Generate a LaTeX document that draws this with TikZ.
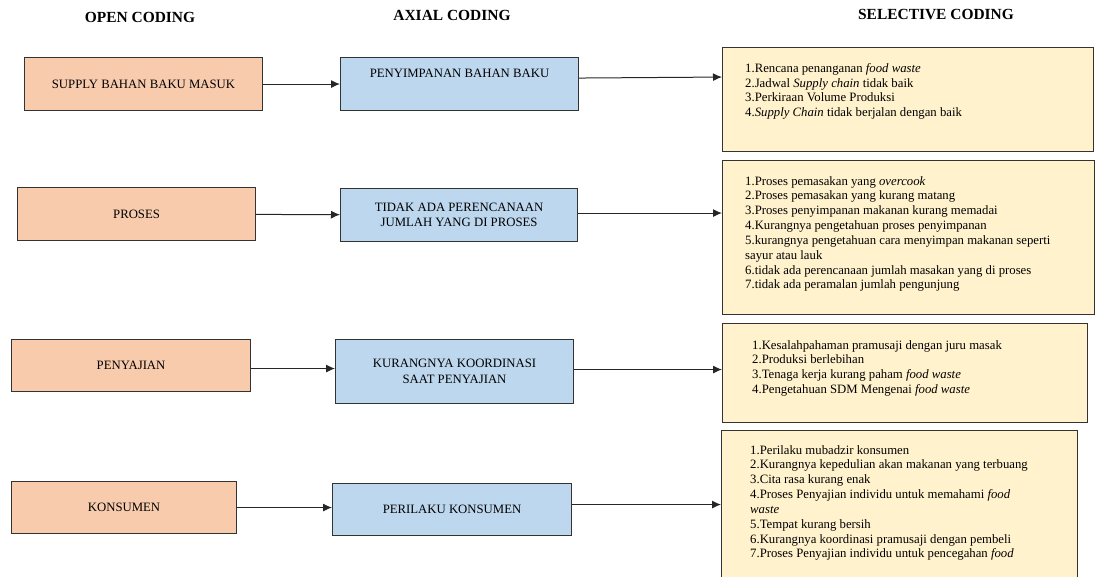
\documentclass[tikz,border=0pt]{standalone}
\usepackage{fontspec}
\setmainfont{Liberation Serif}
\usetikzlibrary{calc,positioning,arrows.meta}
\definecolor{opencol}{HTML}{F8CBAD}
\definecolor{axialcol}{HTML}{BDD7EE}
\definecolor{selcol}{HTML}{FFF2CC}
\definecolor{edgecol}{HTML}{333333}

\begin{document}
\begin{tikzpicture}[x=1bp,y=-1bp,inner sep=0mm,>={Latex[length=9bp,width=8bp]},
  head/.style={font=\fontsize{15.5}{18}\selectfont\bfseries},
  openbox/.style={draw=edgecol,line width=1.1bp,fill=opencol,anchor=north west,
    minimum width=238bp,minimum height=53bp,align=center,font=\fontsize{12.8}{15.5}\selectfont},
  axialbox/.style={openbox,fill=axialcol},
  selbox/.style={draw=edgecol,line width=1.1bp,fill=selcol,anchor=north west},
  seltext/.style={anchor=north west,align=left,font=\fontsize{12.8}{14.9}\selectfont},
  flow/.style={->,draw=black!85,line width=1bp}]
\useasboundingbox (0,0) rectangle (1096,577);
\clip (0,0) rectangle (1096,577);

\node[head] (hopen) at (140,17) {OPEN CODING};
\node[head] (haxial) at (452,15) {AXIAL CODING};
\node[head] (hsel) at (936,15) {SELECTIVE CODING};

% open coding
\node[openbox] (o1) at (24,57) {SUPPLY BAHAN BAKU MASUK};
\node[openbox] (o2) at (17,187) {PROSES};
\node[openbox,minimum width=239bp,minimum height=52bp] (o3) at (11,339) {PENYAJIAN};
\node[openbox,minimum width=225bp,minimum height=52bp] (o4) at (11,481) {KONSUMEN};

% axial coding
\node[axialbox,text depth=21bp] (a1) at (340,57) {PENYIMPANAN BAHAN BAKU};
\node[axialbox,minimum width=237bp] (a2) at (340,188) {TIDAK ADA PERENCANAAN\\JUMLAH YANG DI PROSES};
\node[axialbox,minimum height=64bp] (a3) at (335,339) {KURANGNYA KOORDINASI\\SAAT PENYAJIAN};
\node[axialbox,minimum width=239bp,minimum height=52bp] (a4) at (332,483) {PERILAKU KONSUMEN};

% selective coding
\node[selbox,minimum width=371bp,minimum height=104bp] (s1) at (722,47) {};
\node[selbox,minimum width=372bp,minimum height=154bp] (s2) at (722,160) {};
\node[selbox,minimum width=365bp,minimum height=99bp] (s3) at (722,323) {};
\node[selbox,minimum width=356bp,minimum height=170bp] (s4) at (721,430) {};

\node[seltext] (t1) at ($(s1.north west)+(23,16)$) {1.Rencana penanganan \textit{food waste}\\
2.Jadwal \textit{Supply chain} tidak baik\\
3.Perkiraan Volume Produksi\\
4.\textit{Supply Chain} tidak berjalan dengan baik};
\node[seltext] (t2) at ($(s2.north west)+(23,16)$) {1.Proses pemasakan yang \textit{overcook}\\
2.Proses pemasakan yang kurang matang\\
3.Proses penyimpanan makanan kurang memadai\\
4.Kurangnya pengetahuan proses penyimpanan\\
5.kurangnya pengetahuan cara menyimpan makanan seperti\\
sayur atau lauk\\
6.tidak ada perencanaan jumlah masakan yang di proses\\
7.tidak ada peramalan jumlah pengunjung};
\node[seltext] (t3) at ($(s3.north west)+(30,17)$) {1.Kesalahpahaman pramusaji dengan juru masak\\
2.Produksi berlebihan\\
3.Tenaga kerja kurang paham \textit{food waste}\\
4.Pengetahuan SDM Mengenai \textit{food waste}};
\node[seltext] (t4) at ($(s4.north west)+(29,15)$) {1.Perilaku mubadzir konsumen\\
2.Kurangnya kepedulian akan makanan yang terbuang\\
3.Cita rasa kurang enak\\
4.Proses Penyajian individu untuk memahami \textit{food}\\
\textit{waste}\\
5.Tempat kurang bersih\\
6.Kurangnya koordinasi pramusaji dengan pembeli\\
7.Proses Penyajian individu untuk pencegahan \textit{food}};

\draw[flow] (o1) -- (a1);
\draw[flow] ([yshift=6bp]a1.east) -- ([yshift=7bp]a1.east -| s1.west);
\draw[flow] (o2) -- (a2);
\draw[flow] ([yshift=2bp]a2.east) -- ([yshift=2bp]a2.east -| s2.west);
\draw[flow] ([yshift=-3bp]o3.east) -- ([yshift=-3bp]o3.east -| a3.west);
\draw[flow] ([yshift=2bp]a3.east) -- ([yshift=2bp]a3.east -| s3.west);
\draw[flow] (o4.east) -- (o4.east -| a4.west);
\draw[flow] ([yshift=5bp]a4.east) -- ([yshift=5bp]a4.east -| s4.west);
\end{tikzpicture}
\end{document}
